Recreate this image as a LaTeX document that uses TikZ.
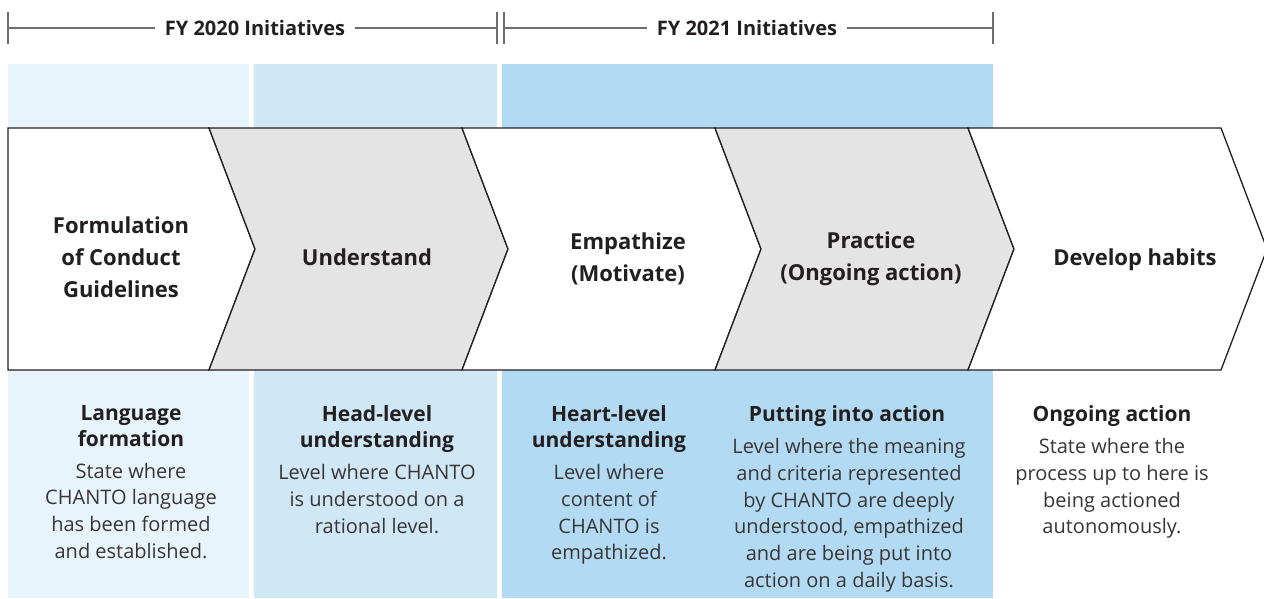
\documentclass[tikz,border=0pt]{standalone}
\usepackage{fontspec}
\setmainfont{Open Sans}
\usetikzlibrary{positioning}
\definecolor{ink}{HTML}{231F20}
\definecolor{rulegray}{HTML}{6D6E71}
\definecolor{chevgray}{HTML}{E4E4E4}
\definecolor{colA}{HTML}{E8F4FB}
\definecolor{colB}{HTML}{D0E7F6}
\definecolor{colC}{HTML}{B2DBF3}

\tikzset{
	bracket/.style={draw=rulegray,line width=1.2pt},
	yearlabel/.style={font=\bfseries\fontsize{20}{24}\selectfont,text=ink,inner xsep=10pt},
	chevline/.style={draw=ink,line width=1.3pt},
	chevlabel/.style={font=\bfseries\fontsize{22}{32}\selectfont,text=ink,align=center},
	stagehead/.style={font=\bfseries\fontsize{21}{26}\selectfont,text=ink,align=center},
	stagebody/.style={font=\fontsize{20}{26.7}\selectfont,text=ink!90,align=center}
}

\begin{document}
\begin{tikzpicture}[x=1pt,y=-1pt]
	\useasboundingbox (0,0) rectangle (1264,598);
	% background columns
	\fill[colA] (8,64) rectangle (249,598);
	\fill[colB] (254,64) rectangle (497,598);
	\fill[colC] (502,64) rectangle (993,598);

	% year brackets
	\coordinate (y20a) at (8,28);
	\coordinate (y20b) at (497,28);
	\coordinate (y21a) at (504,28);
	\coordinate (y21b) at (993,28);
	\node[yearlabel] (fy20) at (255,28) {FY 2020 Initiatives};
	\node[yearlabel] (fy21) at (747,28) {FY 2021 Initiatives};
	\draw[bracket] (y20a) -- (fy20);
	\draw[bracket] (fy20) -- (y20b);
	\draw[bracket] (y21a) -- (fy21);
	\draw[bracket] (fy21) -- (y21b);
	\foreach \t in {y20a,y20b,y21a,y21b}
		\draw[bracket] ([yshift=16pt]\t) -- ([yshift=-16pt]\t);

	% chevrons
	\filldraw[chevline,fill=white] (8,128) -- (209,128) -- (255,249) -- (209,370) -- (8,370) -- cycle;
	\foreach \x/\col in {209/chevgray,462/white,715/chevgray,968/white}
		\filldraw[chevline,fill=\col] (\x,128) -- (\x+253,128) -- (\x+299,249)
			-- (\x+253,370) -- (\x,370) -- (\x+46,249) -- cycle;

	\node[chevlabel] (formulate) at (121,257) {Formulation\\of Conduct\\Guidelines};
	\node[chevlabel] (understand) at (367,257) {Understand};
	\node[chevlabel] (empathize) at (628,259) {Empathize\\(Motivate)};
	\node[chevlabel] (practice) at (871,259) {Practice\\(Ongoing action)};
	\node[chevlabel] (habits) at (1135,260) {Develop habits};

	% stage descriptions
	\node[stagehead,anchor=north] (langhead) at (131,402) {Language\\formation};
	\node[stagebody,below=9pt of langhead] (langbody) {State where\\CHANTO language\\has been formed\\and established.};
	\node[stagehead,anchor=north] (headhead) at (377,402) {Head-level\\understanding};
	\node[stagebody,below=5pt of headhead] (headbody) {Level where CHANTO\\is understood on a\\rational level.};
	\node[stagehead,anchor=north] (hearthead) at (609,402) {Heart-level\\understanding};
	\node[stagebody,below=5pt of hearthead] (heartbody) {Level where\\content of\\CHANTO is\\empathized.};
	\node[stagehead,anchor=north] (acthead) at (847,402) {Putting into action};
	\node[stagebody,anchor=north] (actbody) at (849,435) {Level where the meaning\\and criteria represented\\by CHANTO are deeply\\understood, empathized\\and are being put into\\action on a daily basis.};
	\node[stagehead,anchor=north] (ongohead) at (1112,402) {Ongoing action};
	\node[stagebody,anchor=north] (ongobody) at (1112,435) {State where the\\process up to here is\\being actioned\\autonomously.};
\end{tikzpicture}
\end{document}
